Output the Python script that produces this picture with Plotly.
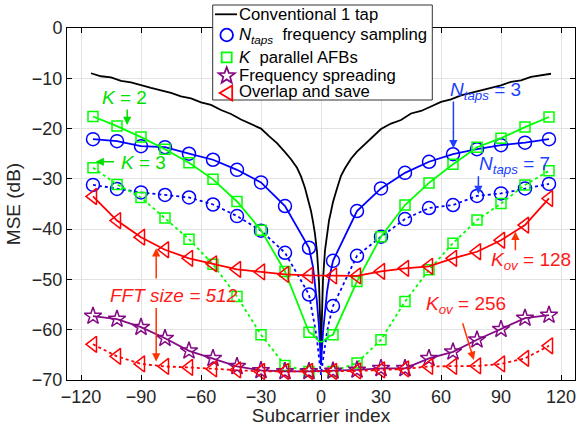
import math
import plotly.graph_objects as go

# ---------------- data ----------------
x_ticks = [-120, -90, -60, -30, 0, 30, 60, 90, 120]
y_ticks = [0, -10, -20, -30, -40, -50, -60, -70]

marks_x = [-114, -102, -90, -78, -66, -54, -42, -30, -18, -6,
           6, 18, 30, 42, 54, 66, 78, 90, 102, 114]

conv_x = [-115, -110, -105, -100, -95, -90, -85, -80, -75, -70, -65, -60, -55, -50, -45,
          -40, -35, -30, -26, -22, -18, -15, -12, -10, -8, -6, -5, -4, -3, -2, -1, 0,
          1, 2, 3, 4, 5, 6, 8, 10, 12, 15, 18, 22, 26, 30, 35, 40, 45, 50, 55, 60,
          65, 70, 75, 80, 85, 90, 95, 100, 105, 110, 115]
conv_y = [-9.0, -9.6, -9.8, -10.5, -10.8, -11.4, -11.9, -12.4, -12.9, -13.6, -14.0, -14.8,
          -15.3, -16.3, -17.1, -18.2, -19.1, -20.0, -21.5, -22.9, -24.7, -26.1, -27.8,
          -29.5, -31.8, -34.8, -36.4, -38.5, -41.0, -44.5, -50.5, -64.0,
          -50.0, -44.2, -40.8, -38.3, -36.5, -34.6, -31.9, -29.4, -27.9, -26.0, -24.6,
          -23.1, -21.4, -20.1, -19.0, -18.3, -17.0, -16.5, -15.6, -14.7, -14.2, -13.4,
          -12.9, -12.4, -11.8, -11.4, -10.7, -10.4, -9.7, -9.4, -9.1]

center_x = [-4, -3, -2, -1, 0, 1, 2, 3, 4]

ntaps3_y = [-22.1, -22.5, -23.5, -23.7, -25.0, -26.2, -28.2, -30.7, -35.4, -43.7,
            -46.3, -36.4, -31.9, -28.8, -26.6, -25.1, -24.1, -23.3, -22.8, -22.1]
ntaps3_center_y = [-47.5, -50.5, -54.5, -59.5, -67.0, -60.5, -56.0, -52.5, -50.0]

ntaps7_y = [-31.2, -32.0, -32.7, -33.2, -33.7, -35.1, -37.4, -40.3, -44.7, -53.0,
            -55.3, -45.3, -41.5, -38.0, -35.8, -35.2, -33.4, -32.9, -31.9, -31.0]
ntaps7_center_y = [-57.0, -59.5, -62.0, -65.0, -69.0, -66.0, -63.0, -60.5, -58.5]

k2_y = [-17.6, -19.5, -21.7, -24.1, -26.8, -30.1, -34.5, -40.2, -48.4, -60.5,
        -61.0, -50.4, -41.5, -35.2, -30.8, -27.1, -23.7, -21.9, -19.7, -17.7]
k2_center_y = [-61.0, -61.5, -62.0, -62.3, -62.4, -62.3, -62.0, -61.7, -61.3]

k3_y = [-27.8, -31.1, -33.7, -37.8, -42.0, -47.0, -53.4, -61.0, -67.1, -68.3,
        -68.3, -66.6, -62.0, -54.4, -48.1, -42.8, -38.2, -34.9, -31.2, -28.4]

spread_y = [-57.3, -57.9, -59.5, -61.7, -64.2, -65.7, -67.3, -68.1, -68.3, -68.3,
            -68.2, -68.0, -67.7, -67.7, -65.7, -64.4, -62.0, -59.9, -57.7, -57.1]

ov128_y = [-33.5, -38.3, -41.6, -44.1, -45.8, -46.9, -48.0, -48.5, -49.0, -49.2,
           -49.3, -49.3, -48.4, -47.8, -47.4, -45.8, -44.5, -42.2, -39.2, -33.9]

ov256_y = [-62.9, -65.3, -66.8, -67.3, -67.5, -67.8, -68.0, -68.3, -68.3, -68.3,
           -68.3, -68.2, -68.0, -67.8, -67.3, -67.3, -67.2, -66.8, -65.7, -63.2]

legend_labels = ["Conventional 1 tap",
                 "<i>N</i><sub><i>taps</i></sub>\u00a0 frequency sampling",
                 "<i>K</i>\u00a0 parallel AFBs",
                 "Frequency spreading",
                 "Overlap and save"]

# ---------------- styles ----------------
BLUE = "#0000ff"
GREEN = "#00ff00"
PURPLE = "#840a84"
RED = "#ff0000"
FONT = "Liberation Sans, Arial, sans-serif"

W, H = 580, 426
ML, MR, MT, MB = 67, 5, 28, 46
PW, PH = W - ML - MR, H - MT - MB


def pxx(px):
    return (px - ML) / PW


def pxy(py):
    return (H - MB - py) / PH


def with_center(mx, my, cx, cy):
    lx = mx[:10] + cx + mx[10:]
    ly = my[:10] + cy + my[10:]
    return lx, ly


fig = go.Figure()


def add_series(lx, ly, mx, my, color, symbol, size, dash):
    fig.add_trace(go.Scatter(x=lx, y=ly, mode="lines", showlegend=False,
                             line=dict(color=color, width=1.8, dash=dash)))
    fig.add_trace(go.Scatter(x=mx, y=my, mode="markers", showlegend=False,
                             marker=dict(symbol=symbol, size=size, color=color,
                                         line=dict(color=color, width=1.5))))


fig.add_trace(go.Scatter(x=conv_x, y=conv_y, mode="lines", showlegend=False,
                         line=dict(color="black", width=1.8)))

lx, ly = with_center(marks_x, ntaps3_y, center_x, ntaps3_center_y)
add_series(lx, ly, marks_x, ntaps3_y, BLUE, "circle-open", 13, "solid")
lx, ly = with_center(marks_x, ntaps7_y, center_x, ntaps7_center_y)
add_series(lx, ly, marks_x, ntaps7_y, BLUE, "circle-open", 13, "dot")
lx, ly = with_center(marks_x, k2_y, center_x, k2_center_y)
add_series(lx, ly, marks_x, k2_y, GREEN, "square-open", 10, "solid")
add_series(marks_x, k3_y, marks_x, k3_y, GREEN, "square-open", 10, "dot")
add_series(marks_x, spread_y, marks_x, spread_y, PURPLE, "star-open", 13, "solid")
add_series(marks_x, ov128_y, marks_x, ov128_y, RED, "triangle-left-open", 14, "solid")
add_series(marks_x, ov256_y, marks_x, ov256_y, RED, "triangle-left-open", 14, "dot")

# ---------------- annotations ----------------
ann = []


def label(x, y, text, color):
    ann.append(dict(x=x, y=y, xref="x", yref="y", text=text, showarrow=False,
                    font=dict(family=FONT, size=19, color=color),
                    xanchor="center", yanchor="middle"))


def arrow(tx, ty, hx, hy, color):
    ann.append(dict(x=hx, y=hy, ax=tx, ay=ty, xref="x", yref="y", axref="x", ayref="y",
                    text="", showarrow=True, arrowhead=2, arrowsize=1.1,
                    arrowwidth=1.5, arrowcolor=color))


label(-98.3, -13.9, "<i>K</i> = 2", "#00e000")
arrow(-96.9, -15.9, -96.9, -19.3, "#00e000")
label(-88.7, -26.8, "<i>K</i> = 3", "#00e000")
arrow(-102.7, -26.6, -112.7, -26.6, "#00e000")
label(82.0, -12.5, "<i>N</i><sub><i>taps</i></sub> = 3", "#2040ff")
arrow(66.2, -14.3, 66.2, -23.9, "#2040ff")
label(96.5, -27.2, "<i>N</i><sub><i>taps</i></sub> = 7", "#2040ff")
arrow(78.7, -29.2, 78.7, -33.0, "#2040ff")
label(105.0, -46.3, "<i>K</i><sub><i>ov</i></sub> = 128", "#ff1a1a")
arrow(97.2, -44.5, 97.2, -40.5, "#ff3300")
label(72.7, -55.1, "<i>K</i><sub><i>ov</i></sub> = 256", "#ff1a1a")
arrow(70.6, -58.4, 76.4, -66.0, "#ff3300")
label(-73.7, -53.1, "<i>FFT size = 512</i>", "#ff1a1a")
arrow(-82.4, -50.1, -82.4, -43.8, "#ff3300")
arrow(-82.4, -55.4, -82.4, -66.3, "#ff3300")

# ---------------- hand-drawn legend (box, symbols, texts) ----------------
shapes = []
shapes.append(dict(type="rect", xref="paper", yref="paper", layer="above",
                   x0=pxx(212.7), x1=pxx(432.3), y0=pxy(100), y1=pxy(5),
                   fillcolor="white", line=dict(color="#333333", width=1)))
row_y = [14.3, 35.0, 57.3, 75.0, 93.0]
text_y = [14.3, 35.5, 57.0, 75.0, 91.5]
sym_x = 226.7
shapes.append(dict(type="line", xref="paper", yref="paper", layer="above",
                   x0=pxx(215), x1=pxx(237), y0=pxy(row_y[0]), y1=pxy(row_y[0]),
                   line=dict(color="black", width=1.8)))


def pixel_shape(kind, py, color, **kw):
    d = dict(type=kind, xref="paper", yref="paper", layer="above",
             xsizemode="pixel", ysizemode="pixel",
             xanchor=pxx(sym_x), yanchor=pxy(py),
             line=dict(color=color, width=1.8), fillcolor="rgba(0,0,0,0)")
    d.update(kw)
    shapes.append(d)


pixel_shape("circle", row_y[1], BLUE, x0=-6.3, x1=6.3, y0=-6.3, y1=6.3)
pixel_shape("rect", row_y[2], GREEN, x0=-5, x1=5, y0=-5, y1=5)
star_pts = []
for i in range(10):
    r = 8.5 if i % 2 == 0 else 3.6
    a = math.pi / 2 + i * math.pi / 5
    star_pts.append((r * math.cos(a), r * math.sin(a) - 0.8))
star_path = "M" + " L".join(f"{px:.2f},{py:.2f}" for px, py in star_pts) + " Z"
pixel_shape("path", row_y[3], PURPLE, path=star_path)
pixel_shape("path", row_y[4], RED, path="M 5.5,7.5 L -7,0 L 5.5,-7.5 Z")

for lbl, ty in zip(legend_labels, text_y):
    ann.append(dict(x=pxx(237), y=pxy(ty), xref="paper", yref="paper", text=lbl,
                    showarrow=False, xanchor="left", yanchor="middle",
                    font=dict(family=FONT, size=16.7, color="black")))

axis_common = dict(showline=True, linecolor="black", linewidth=1, mirror="ticks",
                   ticks="inside", ticklen=5, tickcolor="black", showgrid=True,
                   gridcolor="#e3e3e3", gridwidth=1, zeroline=False,
                   tickfont=dict(family=FONT, size=18, color="#262626"))

fig.update_layout(
    width=W, height=H,
    margin=dict(l=ML, r=MR, t=MT, b=MB, autoexpand=False),
    paper_bgcolor="white", plot_bgcolor="white",
    showlegend=False,
    xaxis=dict(range=[-127, 127], tickvals=x_ticks,
               title=dict(text="Subcarrier index", standoff=0,
                          font=dict(family=FONT, size=19, color="#262626")),
               **axis_common),
    yaxis=dict(range=[-70, 0], tickvals=y_ticks,
               title=dict(text="MSE (dB)", standoff=6,
                          font=dict(family=FONT, size=19, color="#262626")),
               **axis_common),
    annotations=ann,
    shapes=shapes,
    font=dict(family=FONT),
)

fig.write_html("out.html", config={"displayModeBar": False},
               post_script="document.body.style.margin='0';document.body.style.padding='0';")
